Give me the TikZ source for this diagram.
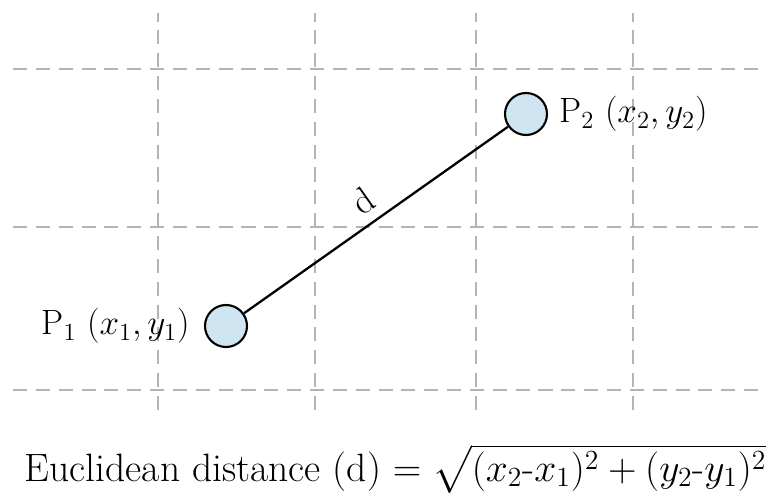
\RequirePackage{fix-cm}
\documentclass[tikz,border=0pt]{standalone}
\usepackage{amsmath, amssymb}
\usepackage{xcolor}
\usepackage{tikz}
\usetikzlibrary{positioning, calc}
\definecolor{gridgray}{RGB}{180, 180, 180}
\definecolor{pointblue}{RGB}{207, 229, 241}

\begin{document}
\begin{tikzpicture}[
  every node/.style={font=\fontsize{20}{24}\selectfont},
  gridline/.style={gridgray, line width=0.9pt, dash pattern=on 8pt off 5pt},
  pt/.style={circle, draw=black, line width=1.2pt, fill=pointblue,
             minimum size=0.84cm, inner sep=0pt},
  ptlabel/.style={inner sep=0pt}]

  \useasboundingbox (0,0) rectangle (15.42,9.84);

  % ---------- Grid ----------
  \foreach \x in {3.16, 6.30, 9.52, 12.66}{
    \draw[gridline] (\x,1.64) -- (\x,9.58);
  }
  \foreach \y in {8.46, 5.30, 2.04}{
    \draw[gridline] (0.26,\y) -- (15.30,\y);
  }

  % ---------- Points ----------
  \node[pt] (p1) at (4.52,3.32) {};
  \node[pt] (p2) at (10.52,7.56) {};
  \node[ptlabel, left=0.28cm of p1] (l1) {P$_1$ $(x_1, y_1)$};
  \node[ptlabel, right=0.22cm of p2] (l2) {P$_2$ $(x_2, y_2)$};

  \draw[line width=1.3pt] (p1) -- node[midway, above=2pt, sloped,
    font=\fontsize{21}{24}\selectfont] (d) {d} (p2);

  % ---------- Formula ----------
  \node[anchor=base, font=\fontsize{22.5}{27}\selectfont] (eq) at (7.91,0.22)
    {Euclidean distance (d) $= \sqrt{(x_2\text{-}x_1)^2 + (y_2\text{-}y_1)^2}$};
\end{tikzpicture}
\end{document}
